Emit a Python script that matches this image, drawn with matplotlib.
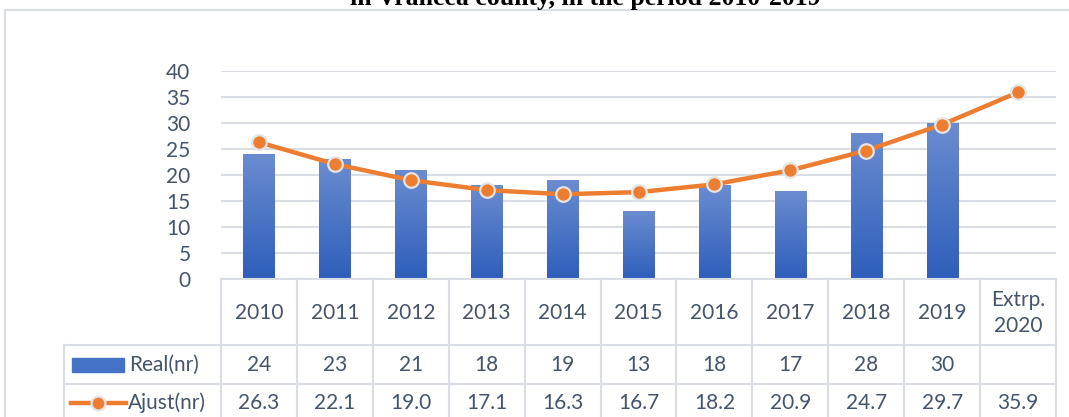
import numpy as np
import matplotlib.pyplot as plt
from matplotlib.lines import Line2D
from matplotlib.patches import Rectangle
from matplotlib.colors import LinearSegmentedColormap

years = ["2010", "2011", "2012", "2013", "2014", "2015", "2016", "2017", "2018", "2019", "Extrp.\n2020"]
real = [24, 23, 21, 18, 19, 13, 18, 17, 28, 30]
ajust = [26.3, 22.1, 19.0, 17.1, 16.3, 16.7, 18.2, 20.9, 24.7, 29.7, 35.9]
yticks = [0, 5, 10, 15, 20, 25, 30, 35, 40]

W, H = 1069, 417
txt = "#44546A"
grid = "#D9DDE4"
orange = "#ED7D31"
fs = 15
plt.rcParams['font.family'] = ['Lato', 'DejaVu Sans']

fig = plt.figure(figsize=(W / 100, H / 100), dpi=100)

def fx(px):
    return px / W

def fy(py):
    return 1 - py / H

# chart frame (cut off at right and bottom, title cut off at top like the source)
fig.add_artist(Line2D([fx(5), 1], [fy(10), fy(10)], color=grid, lw=1.5))
fig.add_artist(Line2D([fx(5), fx(5)], [fy(10), 0], color=grid, lw=1.5))
fig.text(fx(585), fy(5), "in Vrancea county, in the period 2010-2019", ha="center", va="baseline",
         fontsize=18.5, fontweight="bold", family="Liberation Serif", color="black")

L, R, T, B = 221, 1056, 71, 279
ax = fig.add_axes([fx(L), fy(B), fx(R) - fx(L), fy(T) - fy(B)])
for s in ax.spines.values():
    s.set_visible(False)
ax.set_yticks(yticks)
ax.set_xticks([])
ax.tick_params(axis="y", length=0, pad=22, labelsize=fs, labelcolor=txt)
ax.yaxis.grid(True, color=grid, lw=1.5)
ax.set_axisbelow(True)

x = np.arange(len(years))
bars = ax.bar(x[:len(real)], real, width=0.41, color="none", zorder=2)
grad = np.linspace(0, 1, 256).reshape(-1, 1)
cmap = LinearSegmentedColormap.from_list("b", ["#2E5EBB", "#6B8CD0"])
for b in bars:
    im = ax.imshow(grad, cmap=cmap, origin="lower", aspect="auto",
                   extent=[b.get_x(), b.get_x() + b.get_width(), 0, b.get_height()], zorder=2)
    im.set_clip_path(b)
ax.plot(x, ajust, color=orange, lw=3.2, marker="o", ms=10.5, mfc=orange,
        mec="#E4E4E4", mew=1.6, zorder=3, clip_on=False)
ax.set_xlim(-0.5, len(years) - 0.5)
ax.set_ylim(0, 40)

# data table below the plot
tr = ax.get_xaxis_transform()
ycoord = lambda py: (B - py) / (B - T)
bottom = ycoord(H + 5)
for i in range(len(years) + 1):
    ax.add_line(Line2D([i - 0.5, i - 0.5], [0, bottom], transform=tr, color=grid, lw=1.5, clip_on=False))
ax.add_line(Line2D([-0.5, len(years) - 0.5], [0, 0], transform=tr, color=grid, lw=1.5, clip_on=False))
lx0 = fx(64)
for py in [345, 384]:
    fig.add_artist(Line2D([lx0, fx(R)], [fy(py), fy(py)], color=grid, lw=1.5))
fig.add_artist(Line2D([lx0, lx0], [fy(345), 0], color=grid, lw=1.5))

for i, yr in enumerate(years):
    ax.text(i, ycoord(313), yr, transform=tr, ha="center", va="center", fontsize=fs,
            color=txt, linespacing=1.35)
for i, v in enumerate(real):
    ax.text(i, ycoord(365), str(v), transform=tr, ha="center", va="center", fontsize=fs, color=txt)
for i, v in enumerate(ajust):
    ax.text(i, ycoord(403), f"{v:.1f}", transform=tr, ha="center", va="center", fontsize=fs, color=txt)

# legend keys
fig.add_artist(Rectangle((fx(72), fy(372)), fx(124) - fx(72), fy(358) - fy(372), color="#4472C4"))
fig.text(fx(129), fy(365), "Real(nr)", ha="left", va="center", fontsize=fs, color=txt)
fig.add_artist(Line2D([fx(71), fx(126)], [fy(403), fy(403)], color=orange, lw=3.2))
fig.add_artist(Line2D([fx(98)], [fy(403)], marker="o", ms=10, mfc=orange, mec="#E4E4E4", mew=1.6))
fig.text(fx(128), fy(403), "Ajust(nr)", ha="left", va="center", fontsize=fs, color=txt)

fig.savefig("out.png", dpi=100)
